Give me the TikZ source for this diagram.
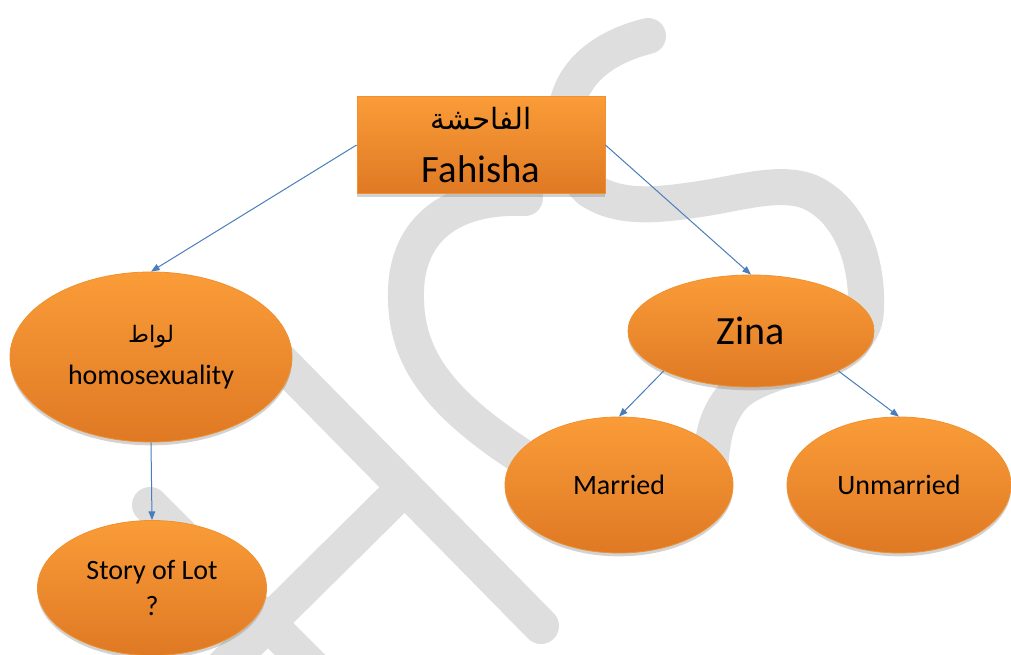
\documentclass[tikz,border=0pt]{standalone}
\usepackage{fontspec}
\setmainfont{Carlito}
\newfontfamily\arabicfont[Script=Arabic]{DejaVu Sans}
\TeXXeTstate=1
\usetikzlibrary{shapes.geometric,shadows,arrows.meta}
\definecolor{boxtop}{HTML}{FA9C38}
\definecolor{boxmid}{HTML}{F59331}
\definecolor{boxbot}{HTML}{DF7924}
\definecolor{boxline}{HTML}{F0902E}
\definecolor{linkblue}{HTML}{4A7EBB}
\definecolor{wmgray}{HTML}{DEDEDE}
\tikzset{
  topic/.style={draw=boxline, line width=0.6pt, top color=boxtop, middle color=boxmid,
    bottom color=boxbot,
    drop shadow={shadow xshift=0pt, shadow yshift=-2.5pt, opacity=0.35},
    align=center, inner sep=0pt},
  oval/.style={topic, ellipse},
  link/.style={draw=linkblue, line width=0.75pt, -{Triangle[length=6.5pt,width=5pt]}},
  wm/.style={draw=wmgray, line width=27pt, line cap=round}
}
\begin{document}
\begin{tikzpicture}[x=0.75pt,y=-0.75pt]
\fill[white] (0,0) rectangle (1011,655);
\useasboundingbox (0,0) rectangle (1011,655);
\begin{scope}
\clip (0,0) rectangle (1011,655);
\draw[wm] (250,330) -- (541,626);
\draw[wm] (392,500) -- (190,700);
\draw[wm] (150,505) -- (345,700);
\draw[wm] (648,36) .. controls (612,45) and (576,65) .. (567,105)
  .. controls (561,135) and (562,165) .. (590,190)
  .. controls (620,210) and (660,205) .. (700,199)
  .. controls (740,193) and (780,180) .. (810,192)
  .. controls (850,210) and (868,260) .. (866,310)
  .. controls (864,370) and (760,360) .. (730,400)
  .. controls (715,420) and (712,440) .. (710,470);
\draw[wm] (525,198) .. controls (450,195) and (408,230) .. (406,290)
  .. controls (404,360) and (440,410) .. (560,480);
\end{scope}

\node (0) at (481,145) [topic, minimum width=186pt, minimum height=72.75pt,
  font=\fontsize{29}{40}\selectfont]
  {{\arabicfont\fontsize{22}{40}\selectfont\beginR الفاحشة\endR}\\Fahisha};
\node (1) at (151,357) [oval, minimum width=211.5pt, minimum height=127.5pt,
  font=\fontsize{21}{31}\selectfont]
  {{\arabicfont\fontsize{17}{31}\selectfont\beginR لواط\endR}\\homosexuality};
\node (2) at (751,331) [oval, minimum width=184.5pt, minimum height=84pt,
  font=\fontsize{30}{36}\selectfont] {Zina};
\node (3) at (152,588) [oval, minimum width=171.75pt, minimum height=101.25pt,
  font=\fontsize{21}{27}\selectfont] {Story of Lot\\?};
\node (4) at (619,485) [oval, minimum width=171pt, minimum height=102pt,
  font=\fontsize{21}{27}\selectfont] {Married};
\node (5) at (899,485) [oval, minimum width=168pt, minimum height=102pt,
  font=\fontsize{21}{27}\selectfont] {Unmarried};

\draw[link] (0.west) to (1.north);
\draw[link] (0.east) to (2.north);
\draw[link] (1.south) to (3.north);
\draw[link] (2.south west) to (4.north);
\draw[link] (2.south east) to (5.north);
\end{tikzpicture}
\end{document}
